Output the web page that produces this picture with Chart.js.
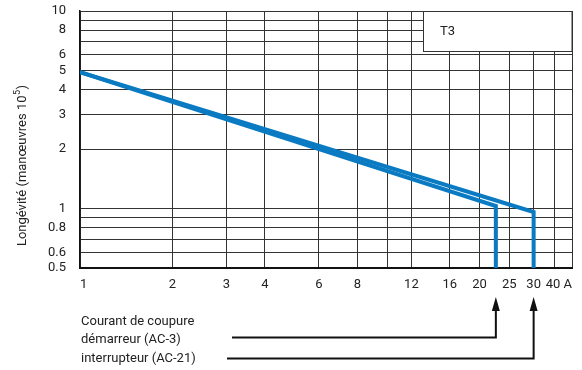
<!DOCTYPE html>
<html><head><meta charset="utf-8">
<script src="https://cdn.jsdelivr.net/npm/chart.js@4"></script>
<style>html,body{margin:0;padding:0;background:#fff}#wrap{width:582px;height:370px;position:relative}</style>
</head><body><div id="wrap"><canvas id="c"></canvas></div>
<script>
// ---- data ----
const xTicks = [1, 2, 3, 4, 6, 8, 10, 12, 16, 20, 25, 30, 35, 40];
const xTickLabels = ['1', '2', '3', '4', '6', '8', '', '12', '16', '20', '25', '30', '', '40 A'];
const yTicks = [0.5, 0.6, 0.7, 0.8, 0.9, 1, 2, 3, 4, 5, 6, 7, 8, 9, 10];
const yTickLabels = ['0.5', '0.6', '', '0.8', '', '1', '2', '3', '4', '5', '6', '', '8', '', '10'];
const ac3Current = [1, 22.6, 22.6];
const ac3Life = [4.9, 1.03, 0.5];
const ac21Current = [1, 30, 30];
const ac21Life = [4.9, 0.96, 0.5];
const seriesNames = ['démarreur (AC-3)', 'interrupteur (AC-21)'];
const annotationTitle = 'Courant de coupure';
const boxLabel = 'T3';
const yTitleParts = ['Longévité (manœuvres 10', '5', ')'];

// ---- styles ----
const FONT = 'Roboto';
const BLUE = '#0a7bc2';
const GRID = '#333333';
const TEXT = '#222222';

const toPts = (xs, ys) => xs.map((x, i) => ({x: x, y: ys[i]}));

const overlay = {
  id: 'overlay',
  afterDraw(chart) {
    const ctx = chart.ctx, xs = chart.scales.x, area = chart.chartArea;
    ctx.save();
    // T3 box
    ctx.fillStyle = '#fff';
    ctx.fillRect(423.5, area.top, area.right - 423.5, 40);
    ctx.strokeStyle = GRID; ctx.lineWidth = 1;
    ctx.strokeRect(423.5, area.top + 0.5, area.right - 423.5, 40);
    ctx.fillStyle = TEXT;
    ctx.font = '13px ' + FONT;
    ctx.textBaseline = 'middle';
    ctx.fillText(boxLabel, 440, 32);
    // y title with superscript
    ctx.save();
    ctx.translate(23, 166);
    ctx.rotate(-Math.PI / 2);
    ctx.textAlign = 'left';
    const big = '13px ' + FONT, small = '9px ' + FONT;
    ctx.font = big; const w0 = ctx.measureText(yTitleParts[0]).width, w2 = ctx.measureText(yTitleParts[2]).width;
    ctx.font = small; const w1 = ctx.measureText(yTitleParts[1]).width;
    let x = -(w0 + w1 + w2) / 2;
    ctx.font = big; ctx.fillText(yTitleParts[0], x, 0); x += w0;
    ctx.font = small; ctx.fillText(yTitleParts[1], x + 0.5, -5); x += w1 + 1;
    ctx.font = big; ctx.fillText(yTitleParts[2], x, 0);
    ctx.restore();
    // annotations
    ctx.font = big;
    ctx.textAlign = 'left';
    ctx.fillText(annotationTitle, 81, 322);
    ctx.fillText(seriesNames[0], 81, 340);
    ctx.fillText(seriesNames[1], 81, 358.5);
    const conn = [[ac3Current[1], 232, 337.5], [ac21Current[1], 227, 358.5]];
    ctx.strokeStyle = '#111'; ctx.fillStyle = '#111'; ctx.lineWidth = 2;
    conn.forEach(([v, x0, y0]) => {
      const px = xs.getPixelForValue(v);
      ctx.beginPath();
      ctx.moveTo(x0, y0); ctx.lineTo(px, y0); ctx.lineTo(px, 308);
      ctx.stroke();
      ctx.beginPath();
      ctx.moveTo(px, 297); ctx.lineTo(px - 4, 311); ctx.lineTo(px + 4, 311);
      ctx.closePath(); ctx.fill();
    });
    ctx.restore();
  }
};

new Chart(document.getElementById('c'), {
  type: 'line',
  data: {
    datasets: [
      {label: seriesNames[0], data: toPts(ac3Current, ac3Life)},
      {label: seriesNames[1], data: toPts(ac21Current, ac21Life)}
    ]
  },
  options: {
    responsive: true, maintainAspectRatio: false, animation: false,
    layout: {padding: {top: 11, right: 10, left: 0, bottom: 0}},
    elements: {
      line: {borderColor: BLUE, borderWidth: 4, tension: 0, borderJoinStyle: 'miter', borderCapStyle: 'butt'},
      point: {radius: 0, hoverRadius: 0}
    },
    plugins: {legend: {display: false}, tooltip: {enabled: false}},
    events: [],
    scales: {
      x: {
        type: 'logarithmic', min: 1, max: 40,
        afterBuildTicks: s => { s.ticks = xTicks.map(v => ({value: v})); },
        afterFit: s => { s.height = 102; },
        ticks: {
          autoSkip: false, maxRotation: 0, align: 'inner', padding: 0,
          color: TEXT, font: {family: FONT, size: 13},
          callback: (v, i) => xTickLabels[xTicks.indexOf(v)] ?? ''
        },
        grid: {color: GRID, lineWidth: 1, drawTicks: true, tickLength: 9, tickColor: 'rgba(0,0,0,0)'},
        border: {color: '#111', width: 2}
      },
      y: {
        type: 'logarithmic', min: 0.5, max: 10,
        afterBuildTicks: s => { s.ticks = yTicks.map(v => ({value: v})); },
        afterFit: s => { s.width = 80; },
        ticks: {
          autoSkip: false, padding: 0,
          color: TEXT, font: {family: FONT, size: 13},
          callback: (v, i) => yTickLabels[yTicks.indexOf(v)] ?? ''
        },
        grid: {color: GRID, lineWidth: 1, drawTicks: true, tickLength: 14, tickColor: 'rgba(0,0,0,0)'},
        border: {color: '#111', width: 1.5}
      }
    }
  },
  plugins: [overlay]
});
</script></body></html>
